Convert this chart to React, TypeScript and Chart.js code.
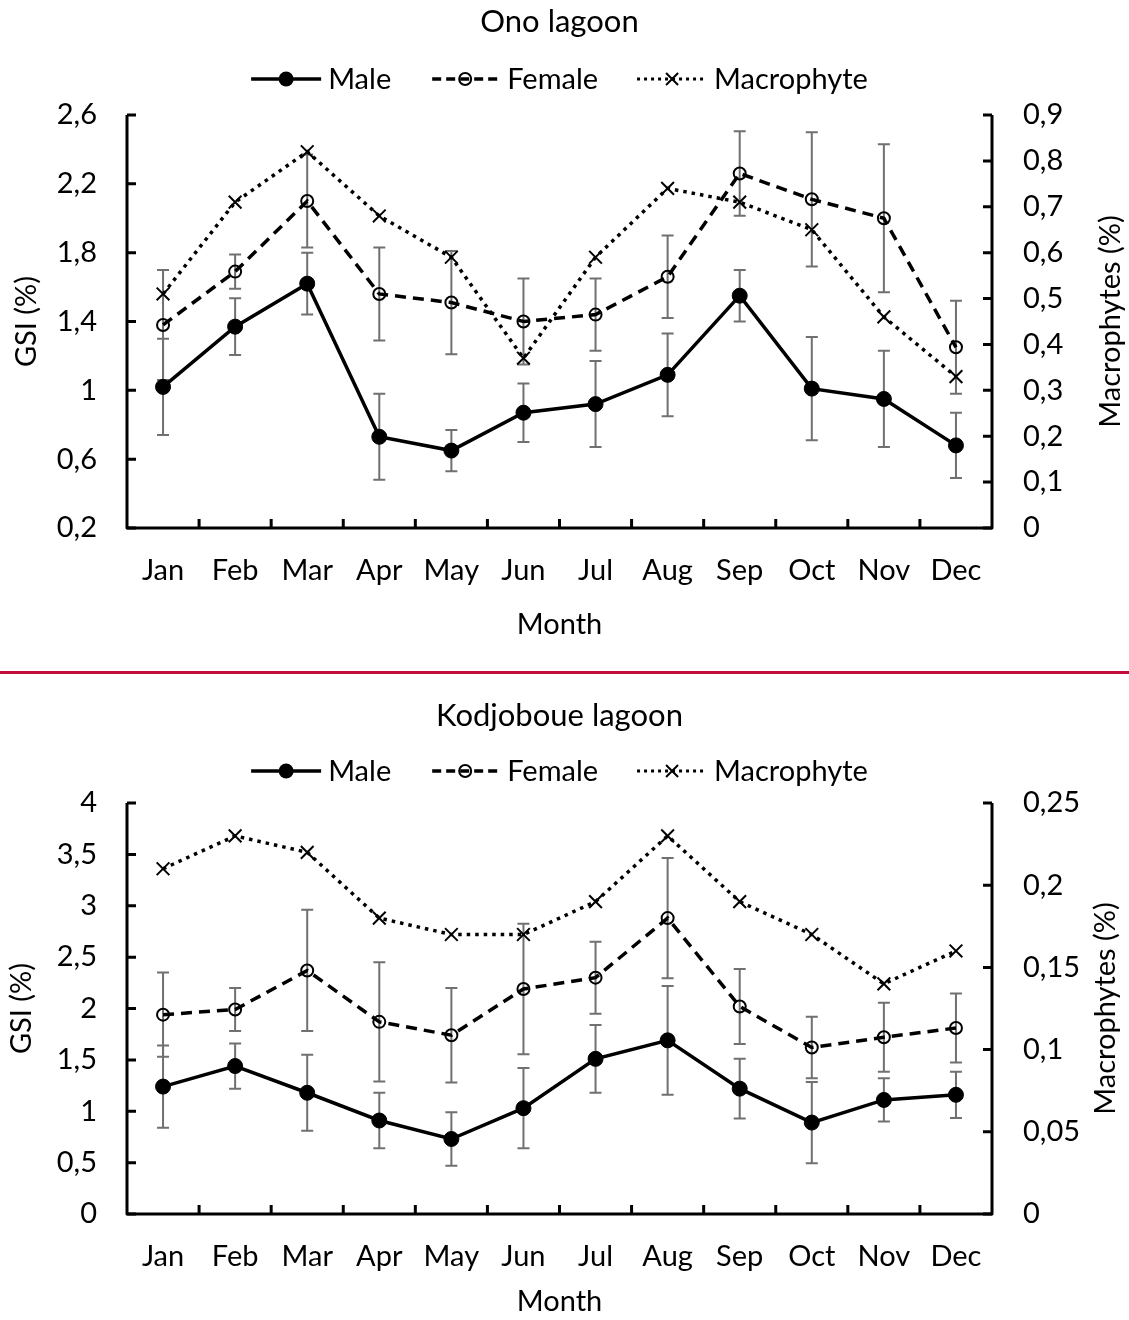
import React, { useEffect, useRef } from "react";
import { Chart, registerables } from "chart.js";

Chart.register(...registerables);

// ---------- data ----------
const months = ["Jan", "Feb", "Mar", "Apr", "May", "Jun", "Jul", "Aug", "Sep", "Oct", "Nov", "Dec"];
const seriesNames = ["Male", "Female", "Macrophyte"];
const axisTitles = ["GSI (%)", "Macrophytes (%)", "Month"];

const onoTitle = "Ono lagoon";
const onoMale = [1.02, 1.37, 1.62, 0.73, 0.65, 0.87, 0.92, 1.09, 1.55, 1.01, 0.95, 0.68];
const onoMaleErr = [0.28, 0.165, 0.18, 0.25, 0.12, 0.17, 0.25, 0.24, 0.15, 0.3, 0.28, 0.19];
const onoFemale = [1.38, 1.69, 2.1, 1.56, 1.51, 1.4, 1.44, 1.66, 2.26, 2.11, 2.0, 1.25];
const onoFemaleErr = [0.32, 0.1, 0.27, 0.27, 0.3, 0.25, 0.21, 0.24, 0.245, 0.39, 0.43, 0.27];
const onoMacro = [0.51, 0.71, 0.82, 0.68, 0.59, 0.37, 0.59, 0.74, 0.71, 0.65, 0.46, 0.33];

const onoLeftTickValues = [0.2, 0.6, 1, 1.4, 1.8, 2.2, 2.6];
const onoLeftTickLabels = ["0,2", "0,6", "1", "1,4", "1,8", "2,2", "2,6"];
const onoRightTickValues = [0, 0.1, 0.2, 0.3, 0.4, 0.5, 0.6, 0.7, 0.8, 0.9];
const onoRightTickLabels = ["0", "0,1", "0,2", "0,3", "0,4", "0,5", "0,6", "0,7", "0,8", "0,9"];

const kodTitle = "Kodjoboue lagoon";
const kodMale = [1.24, 1.44, 1.18, 0.91, 0.73, 1.03, 1.51, 1.69, 1.22, 0.89, 1.11, 1.16];
const kodMaleErr = [0.4, 0.22, 0.37, 0.27, 0.26, 0.39, 0.33, 0.53, 0.29, 0.395, 0.21, 0.225];
const kodFemale = [1.94, 1.99, 2.37, 1.87, 1.74, 2.19, 2.3, 2.88, 2.02, 1.62, 1.72, 1.81];
const kodFemaleErr = [0.41, 0.21, 0.59, 0.58, 0.46, 0.635, 0.35, 0.585, 0.365, 0.3, 0.335, 0.335];
const kodMacro = [0.21, 0.23, 0.22, 0.18, 0.17, 0.17, 0.19, 0.23, 0.19, 0.17, 0.14, 0.16];

const kodLeftTickValues = [0, 0.5, 1, 1.5, 2, 2.5, 3, 3.5, 4];
const kodLeftTickLabels = ["0", "0,5", "1", "1,5", "2", "2,5", "3", "3,5", "4"];
const kodRightTickValues = [0, 0.05, 0.1, 0.15, 0.2, 0.25];
const kodRightTickLabels = ["0", "0,05", "0,1", "0,15", "0,2", "0,25"];

// ---------- styling ----------
const FONT = "Lato";
const TEXT_SIZE = 29;
const TITLE_SIZE = 31;
const W = 1129;

type PanelCfg = {
  title: string;
  male: number[];
  maleErr: number[];
  female: number[];
  femaleErr: number[];
  macro: number[];
  leftVals: number[];
  leftLabels: string[];
  rightVals: number[];
  rightLabels: string[];
  height: number;
  plotTop: number;
  plotBottom: number;
  titleY: number;
  legendY: number;
  monthY: number;
  gsiX: number;
  macroX: number;
};

const femaleDash = [11, 7];
const macroDash = [3.5, 5];

function drawMarker(ctx: CanvasRenderingContext2D, kind: number, x: number, y: number) {
  ctx.save();
  ctx.setLineDash([]);
  ctx.strokeStyle = "#000";
  ctx.fillStyle = "#000";
  if (kind === 0) {
    ctx.beginPath();
    ctx.arc(x, y, 7.5, 0, Math.PI * 2);
    ctx.fill();
  } else if (kind === 1) {
    ctx.lineWidth = 2;
    ctx.beginPath();
    ctx.arc(x, y, 6, 0, Math.PI * 2);
    ctx.stroke();
  } else {
    ctx.lineWidth = 2;
    const r = 6;
    ctx.beginPath();
    ctx.moveTo(x - r, y - r);
    ctx.lineTo(x + r, y + r);
    ctx.moveTo(x + r, y - r);
    ctx.lineTo(x - r, y + r);
    ctx.stroke();
  }
  ctx.restore();
}

function makeDeco(p: PanelCfg) {
  return {
    id: "deco",
    beforeDatasetsDraw(chart: any) {
      const ctx: CanvasRenderingContext2D = chart.ctx;
      const { left, right, top, bottom } = chart.chartArea;
      const xs = chart.scales.x;
      const ys = chart.scales.y;
      const yr = chart.scales.y1;
      ctx.save();
      // error bars
      ctx.strokeStyle = "#707070";
      ctx.lineWidth = 2;
      const sets = [
        { v: p.male, e: p.maleErr },
        { v: p.female, e: p.femaleErr },
      ];
      sets.forEach(({ v, e }) => {
        v.forEach((val, i) => {
          const x = xs.getPixelForValue(i);
          const y1 = ys.getPixelForValue(val + e[i]);
          const y2 = ys.getPixelForValue(val - e[i]);
          ctx.beginPath();
          ctx.moveTo(x, y1);
          ctx.lineTo(x, y2);
          ctx.moveTo(x - 6, y1);
          ctx.lineTo(x + 6, y1);
          ctx.moveTo(x - 6, y2);
          ctx.lineTo(x + 6, y2);
          ctx.stroke();
        });
      });
      // axes
      ctx.strokeStyle = "#000";
      ctx.lineWidth = 3;
      ctx.lineJoin = "round";
      ctx.beginPath();
      ctx.moveTo(left, top);
      ctx.lineTo(left, bottom);
      ctx.lineTo(right, bottom);
      ctx.lineTo(right, top);
      ctx.stroke();
      ctx.beginPath();
      ys.ticks.forEach((t: any) => {
        const y = ys.getPixelForValue(t.value);
        ctx.moveTo(left, y);
        ctx.lineTo(left + 9, y);
      });
      yr.ticks.forEach((t: any) => {
        const y = yr.getPixelForValue(t.value);
        ctx.moveTo(right, y);
        ctx.lineTo(right - 9, y);
      });
      for (let i = 1; i < months.length; i++) {
        const x = xs.getPixelForValue(i - 0.5);
        ctx.moveTo(x, bottom);
        ctx.lineTo(x, bottom - 9);
      }
      ctx.stroke();
      ctx.restore();
    },
    afterDraw(chart: any) {
      const ctx: CanvasRenderingContext2D = chart.ctx;
      const { left, right, top, bottom } = chart.chartArea;
      const cx = (left + right) / 2;
      const cy = (top + bottom) / 2;
      ctx.save();
      ctx.fillStyle = "#000";
      ctx.textBaseline = "middle";
      ctx.textAlign = "center";
      ctx.font = `${TITLE_SIZE}px ${FONT}`;
      ctx.fillText(p.title, cx, p.titleY);
      ctx.font = `${TEXT_SIZE}px ${FONT}`;
      ctx.fillText(axisTitles[2], cx, p.monthY);
      // rotated axis titles
      ctx.save();
      ctx.translate(p.gsiX, cy);
      ctx.rotate(-Math.PI / 2);
      ctx.fillText(axisTitles[0], 0, 0);
      ctx.restore();
      ctx.save();
      ctx.translate(p.macroX, cy);
      ctx.rotate(-Math.PI / 2);
      ctx.fillText(axisTitles[1], 0, 0);
      ctx.restore();
      // legend
      const sampleW = 70;
      const gapText = 7;
      const gapItem = 39;
      const widths = seriesNames.map((n) => ctx.measureText(n).width);
      const total =
        widths.reduce((a, b) => a + b, 0) + seriesNames.length * (sampleW + gapText) + gapItem * (seriesNames.length - 1);
      let x = cx - total / 2;
      const y = p.legendY;
      seriesNames.forEach((name, k) => {
        ctx.save();
        ctx.strokeStyle = "#000";
        if (k === 0) {
          ctx.lineWidth = 3.5;
          ctx.setLineDash([]);
        } else if (k === 1) {
          ctx.lineWidth = 3.5;
          ctx.setLineDash([9, 5]);
          ctx.lineDashOffset = -2;
        } else {
          ctx.lineWidth = 3;
          ctx.setLineDash([3, 4]);
        }
        ctx.beginPath();
        ctx.moveTo(x, y);
        ctx.lineTo(x + sampleW, y);
        ctx.stroke();
        ctx.restore();
        drawMarker(ctx, k, x + sampleW / 2, y);
        ctx.textAlign = "left";
        ctx.fillText(name, x + sampleW + gapText, y + 1);
        x += sampleW + gapText + widths[k] + gapItem;
      });
      ctx.restore();
    },
  };
}

function Panel({ p, top }: { p: PanelCfg; top: number }) {
  const ref = useRef<HTMLCanvasElement>(null);
  useEffect(() => {
    const canvas = ref.current!;
    const tickFont = { family: FONT, size: TEXT_SIZE };
    const chart = new Chart(canvas, {
      type: "line",
      data: {
        labels: months,
        datasets: [
          {
            label: seriesNames[0],
            data: p.male,
            yAxisID: "y",
            borderColor: "#000",
            backgroundColor: "#000",
            borderWidth: 3.5,
            tension: 0,
            pointStyle: "circle",
            pointRadius: 7.5,
            pointBackgroundColor: "#000",
            pointBorderColor: "#000",
            pointBorderWidth: 1,
          },
          {
            label: seriesNames[1],
            data: p.female,
            yAxisID: "y",
            borderColor: "#000",
            borderWidth: 3.5,
            borderDash: femaleDash,
            tension: 0,
            pointStyle: "circle",
            pointRadius: 6,
            pointBackgroundColor: "rgba(0,0,0,0)",
            pointBorderColor: "#000",
            pointBorderWidth: 2,
          },
          {
            label: seriesNames[2],
            data: p.macro,
            yAxisID: "y1",
            borderColor: "#000",
            borderWidth: 3.5,
            borderDash: macroDash,
            tension: 0,
            pointStyle: "crossRot",
            pointRadius: 9,
            pointBorderColor: "#000",
            pointBorderWidth: 2,
          },
        ],
      } as any,
      options: {
        responsive: false,
        animation: false,
        events: [],
        layout: { padding: { top: p.plotTop, left: 0, right: 0, bottom: 0 } },
        plugins: {
          legend: { display: false },
          title: { display: false },
          tooltip: { enabled: false },
        },
        scales: {
          x: {
            type: "category",
            offset: true,
            grid: { display: false, drawTicks: false },
            border: { display: false },
            ticks: { font: tickFont, color: "#000", padding: 25, maxRotation: 0, autoSkip: false },
            afterFit: (s: any) => {
              s.height = p.height - p.plotBottom;
            },
          },
          y: {
            position: "left",
            min: p.leftVals[0],
            max: p.leftVals[p.leftVals.length - 1],
            grid: { display: false, drawTicks: false },
            border: { display: false },
            afterBuildTicks: (s: any) => {
              s.ticks = p.leftVals.map((v) => ({ value: v }));
            },
            ticks: {
              font: tickFont,
              color: "#000",
              padding: 30,
              callback: (_v: any, i: number) => p.leftLabels[i],
            },
            afterFit: (s: any) => {
              s.width = 127;
            },
          },
          y1: {
            position: "right",
            min: p.rightVals[0],
            max: p.rightVals[p.rightVals.length - 1],
            grid: { display: false, drawTicks: false },
            border: { display: false },
            afterBuildTicks: (s: any) => {
              s.ticks = p.rightVals.map((v) => ({ value: v }));
            },
            ticks: {
              font: tickFont,
              color: "#000",
              padding: 31,
              callback: (_v: any, i: number) => p.rightLabels[i],
            },
            afterFit: (s: any) => {
              s.width = W - 992;
            },
          },
        },
      } as any,
      plugins: [makeDeco(p)],
    });
    return () => chart.destroy();
  }, []);
  return (
    <div style={{ position: "absolute", left: 0, top, width: W, height: p.height }}>
      <canvas ref={ref} width={W} height={p.height} style={{ width: W, height: p.height, display: "block" }} />
    </div>
  );
}

const onoPanel: PanelCfg = {
  title: onoTitle,
  male: onoMale,
  maleErr: onoMaleErr,
  female: onoFemale,
  femaleErr: onoFemaleErr,
  macro: onoMacro,
  leftVals: onoLeftTickValues,
  leftLabels: onoLeftTickLabels,
  rightVals: onoRightTickValues,
  rightLabels: onoRightTickLabels,
  height: 660,
  plotTop: 115,
  plotBottom: 528,
  titleY: 22,
  legendY: 79,
  monthY: 625,
  gsiX: 27,
  macroX: 1111,
};

const kodPanel: PanelCfg = {
  title: kodTitle,
  male: kodMale,
  maleErr: kodMaleErr,
  female: kodFemale,
  femaleErr: kodFemaleErr,
  macro: kodMacro,
  leftVals: kodLeftTickValues,
  leftLabels: kodLeftTickLabels,
  rightVals: kodRightTickValues,
  rightLabels: kodRightTickLabels,
  height: 640,
  plotTop: 123,
  plotBottom: 534,
  titleY: 36,
  legendY: 91,
  monthY: 622,
  gsiX: 22,
  macroX: 1106,
};

export default function App() {
  return (
    <div style={{ position: "absolute", left: 0, top: 0, width: W, height: 1320, background: "#fff" }}>
      <Panel p={onoPanel} top={0} />
      <div style={{ position: "absolute", left: 0, top: 671, width: W, height: 3, background: "#C00D3A" }} />
      <Panel p={kodPanel} top={680} />
    </div>
  );
}
